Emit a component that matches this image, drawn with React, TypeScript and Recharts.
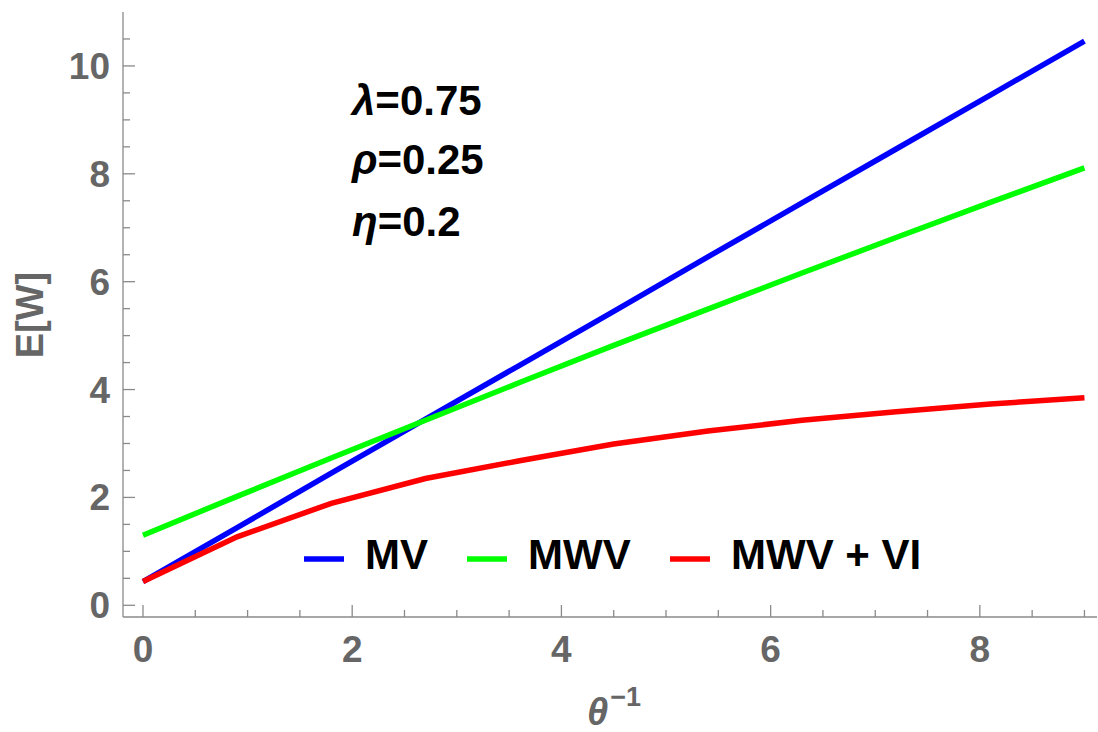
import React from 'react';
import { LineChart, Line, XAxis, YAxis, Legend } from 'recharts';

// ---- data ----
const thetaInv = [0, 0.9, 1.8, 2.7, 3.6, 4.5, 5.4, 6.3, 7.2, 8.1, 9];
const mvValues = [0.44, 1.44, 2.45, 3.45, 4.45, 5.45, 6.46, 7.46, 8.46, 9.46, 10.46];
const mwvValues = [1.3, 2.02, 2.73, 3.43, 4.13, 4.82, 5.49, 6.16, 6.82, 7.47, 8.11];
const mwvViValues = [0.44, 1.27, 1.89, 2.35, 2.68, 2.99, 3.23, 3.43, 3.59, 3.73, 3.85];

const seriesNames = ['MV', 'MWV', 'MWV + VI'];
const xTicks = [0, 0.5, 1, 1.5, 2, 2.5, 3, 3.5, 4, 4.5, 5, 5.5, 6, 6.5, 7, 7.5, 8, 8.5, 9];
const yTicks = [0, 0.5, 1, 1.5, 2, 2.5, 3, 3.5, 4, 4.5, 5, 5.5, 6, 6.5, 7, 7.5, 8, 8.5, 9, 9.5, 10, 10.5];
const xDomain = [-0.191, 9.12];
const yDomain = [-0.217, 11.0];
const paramLines = [
  { sym: 'λ', val: '=0.75' },
  { sym: 'ρ', val: '=0.25' },
  { sym: 'η', val: '=0.2' },
];

const data = thetaInv.map((x, i) => ({
  x,
  mv: mvValues[i],
  mwv: mwvValues[i],
  vi: mwvViValues[i],
}));

// ---- styles ----
const W = 1098;
const H = 732;
const FRAME = '#8a8a8a';
const LABEL = '#666666';
const FONT = '"Liberation Sans", Arial, Helvetica, sans-serif';
const COLORS = ['#0000ff', '#00ff00', '#ff0000'];

const isMajor = (v: number) => Math.abs(v / 2 - Math.round(v / 2)) < 1e-6;
const tickLen = (v: number) => (isMajor(v) ? 12 : 7);

const BottomTick = (props: any) => {
  const { x, y, payload } = props;
  const v = payload.value;
  return (
    <g>
      <line x1={x} y1={y} x2={x} y2={y - tickLen(v)} stroke={FRAME} strokeWidth={1.3} />
      {isMajor(v) && (
        <text x={x} y={y + 45} textAnchor="middle" fontFamily={FONT} fontWeight="bold" fontSize={37} fill={LABEL}>
          {v}
        </text>
      )}
    </g>
  );
};

const TopTick = (props: any) => {
  const { x, y, payload } = props;
  const v = payload.value;
  return <line x1={x} y1={y} x2={x} y2={y + tickLen(v)} stroke={FRAME} strokeWidth={1.3} />;
};

const LeftTick = (props: any) => {
  const { x, y, payload } = props;
  const v = payload.value;
  return (
    <g>
      <line x1={x} y1={y} x2={x + tickLen(v)} y2={y} stroke={FRAME} strokeWidth={1.3} />
      {isMajor(v) && (
        <text x={x - 13} y={y + 13} textAnchor="end" fontFamily={FONT} fontWeight="bold" fontSize={37} fill={LABEL}>
          {v}
        </text>
      )}
    </g>
  );
};

const RightTick = (props: any) => {
  const { x, y, payload } = props;
  const v = payload.value;
  return <line x1={x} y1={y} x2={x - tickLen(v)} y2={y} stroke={FRAME} strokeWidth={1.3} />;
};

const renderYLabel = () => (
  <text
    transform="translate(43,315) rotate(-90)"
    textAnchor="middle"
    fontFamily={FONT}
    fontWeight="bold"
    fontSize={38}
    fill={LABEL}
  >
    E[W]
  </text>
);

const renderXLabel = () => (
  <text x={587} y={725} fontFamily={FONT} fontWeight="bold" fill={LABEL}>
    <tspan fontStyle="italic" fontSize={38}>θ</tspan>
    <tspan fontSize={27} dx={2} dy={-19}>−1</tspan>
  </text>
);

const legendX = [304, 467, 670];

const renderLegend = (props: any) => {
  const payload = props.payload || [];
  return (
    <div style={{ position: 'relative', width: 0, height: 0 }}>
      <svg width={W} height={H} style={{ position: 'absolute', left: 0, top: 0, overflow: 'visible', pointerEvents: 'none' }}>
        {payload.map((entry: any, i: number) => (
          <g key={i}>
            <line x1={legendX[i]} y1={559} x2={legendX[i] + 40} y2={559} stroke={entry.color} strokeWidth={5.5} />
            <text x={legendX[i] + 61} y={569} fontFamily={FONT} fontWeight="bold" fontSize={42} fill="#000">
              {entry.value}
            </text>
          </g>
        ))}
      </svg>
    </div>
  );
};

const paramBaselines = [115, 174, 236];

export default function App() {
  return (
    <div style={{ position: 'absolute', left: 0, top: 0, width: W, height: H, background: '#fff' }}>
      <LineChart width={W} height={H} data={data} margin={{ top: 12, right: 1, bottom: 0, left: 0 }}>
        <XAxis
          dataKey="x"
          type="number"
          domain={xDomain}
          ticks={xTicks}
          interval={0}
          height={115}
          tickSize={0}
          tickMargin={0}
          tickLine={false}
          axisLine={{ stroke: FRAME, strokeWidth: 1.3 }}
          tick={<BottomTick />}
          label={renderXLabel}
        />
        <XAxis
          xAxisId="top"
          orientation="top"
          dataKey="x"
          type="number"
          domain={xDomain}
          ticks={xTicks}
          interval={0}
          height={0}
          tickSize={0}
          tickMargin={0}
          tickLine={false}
          axisLine={{ stroke: FRAME, strokeWidth: 1.3 }}
          tick={<TopTick />}
        />
        <YAxis
          type="number"
          domain={yDomain}
          ticks={yTicks}
          interval={0}
          width={123}
          tickSize={0}
          tickMargin={0}
          tickLine={false}
          axisLine={{ stroke: FRAME, strokeWidth: 1.3 }}
          tick={<LeftTick />}
          label={renderYLabel}
        />
        <YAxis
          yAxisId="right"
          orientation="right"
          type="number"
          domain={yDomain}
          ticks={yTicks}
          interval={0}
          width={0}
          tickSize={0}
          tickMargin={0}
          tickLine={false}
          axisLine={{ stroke: FRAME, strokeWidth: 1.3 }}
          tick={<RightTick />}
        />
        <Legend content={renderLegend} wrapperStyle={{ position: 'absolute', left: 0, top: 0, width: 0, height: 0 }} />
        <Line type="linear" dataKey="mv" name={seriesNames[0]} stroke={COLORS[0]} strokeWidth={5.5} dot={false} isAnimationActive={false} />
        <Line type="linear" dataKey="mwv" name={seriesNames[1]} stroke={COLORS[1]} strokeWidth={5.5} dot={false} isAnimationActive={false} />
        <Line type="linear" dataKey="vi" name={seriesNames[2]} stroke={COLORS[2]} strokeWidth={5.5} dot={false} isAnimationActive={false} />
      </LineChart>
      <svg width={W} height={H} style={{ position: 'absolute', left: 0, top: 0, pointerEvents: 'none' }}>
        {paramLines.map((p, i) => (
          <text key={i} x={352} y={paramBaselines[i]} fontFamily={FONT} fontWeight="bold" fontSize={42} fill="#000">
            <tspan fontStyle="italic">{p.sym}</tspan>
            <tspan>{p.val}</tspan>
          </text>
        ))}
      </svg>
    </div>
  );
}
